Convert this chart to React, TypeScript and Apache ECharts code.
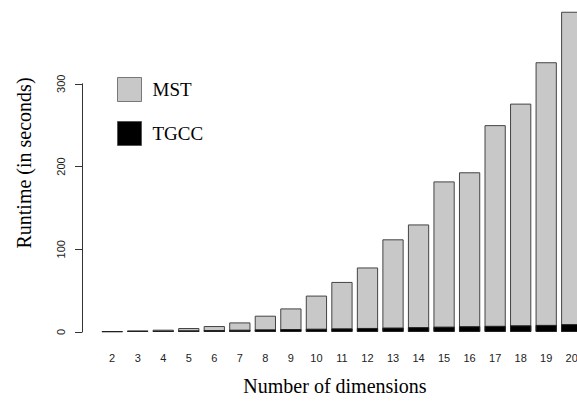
import React, { useEffect, useRef } from "react";
import * as echarts from "echarts";

const dimensions = ["2", "3", "4", "5", "6", "7", "8", "9", "10", "11", "12", "13", "14", "15", "16", "17", "18", "19", "20"];
const mstRuntime = [1.2, 2, 2.8, 4.8, 7.2, 11.6, 19.7, 28.5, 44, 60.5, 78, 112, 130, 182, 193, 250, 276, 326, 387];
const tgccRuntime = [0.8, 1.2, 1.6, 2, 2.4, 2.8, 3.2, 3.6, 4, 4.4, 4.9, 5.4, 5.9, 6.5, 7, 7.5, 8.1, 8.6, 9.5];
const yTicks = [0, 100, 200, 300];

const SERIF = "'Liberation Serif', 'Times New Roman', serif";
const SANS = "'Liberation Sans', Arial, sans-serif";

export default function App() {
  const ref = useRef<HTMLDivElement>(null);
  useEffect(() => {
    if (!ref.current) return;
    const chart = echarts.init(ref.current, null, { renderer: "svg" });
    chart.setOption({
      animation: false,
      backgroundColor: "#ffffff",
      grid: [
        { left: 99.4, width: 485.1, top: 1, bottom: 70, outerBoundsMode: "none", containLabel: false },
        { left: 82, width: 10, top: 83.75, bottom: 70, outerBoundsMode: "none", containLabel: false },
      ],
      xAxis: [
        {
          type: "category",
          gridIndex: 0,
          data: dimensions,
          axisLine: { show: false },
          axisTick: { show: false },
          axisLabel: { fontFamily: SANS, fontSize: 11, color: "#222", margin: 20, interval: 0 },
        },
        { type: "value", gridIndex: 1, show: false },
      ],
      yAxis: [
        { type: "value", gridIndex: 0, min: 0, max: 400, show: false },
        {
          type: "value",
          gridIndex: 1,
          min: yTicks[0],
          max: yTicks[yTicks.length - 1],
          interval: 100,
          axisLine: { show: true, lineStyle: { color: "#333", width: 1 } },
          axisTick: { show: true, length: 7, lineStyle: { color: "#333" } },
          splitLine: { show: false },
          axisLabel: { fontFamily: SANS, fontSize: 11, color: "#222", rotate: 90, margin: 16 },
        },
      ],
      legend: {
        orient: "vertical",
        left: 112,
        top: 72,
        itemWidth: 24,
        itemHeight: 24,
        itemGap: 19,
        icon: "rect",
        textStyle: { fontFamily: SERIF, fontSize: 19, color: "#000", padding: [0, 0, 0, 6] },
        data: [
          { name: "MST", itemStyle: { color: "#c8c8c8", borderColor: "#777", borderWidth: 1 } },
          { name: "TGCC", itemStyle: { color: "#000", borderColor: "#555", borderWidth: 1 } },
        ],
      },
      series: [
        {
          name: "MST",
          type: "bar",
          xAxisIndex: 0,
          yAxisIndex: 0,
          data: mstRuntime,
          barCategoryGap: "16.7%",
          barGap: "-100%",
          itemStyle: { color: "#c8c8c8", borderColor: "#444", borderWidth: 1 },
        },
        {
          name: "TGCC",
          type: "bar",
          xAxisIndex: 0,
          yAxisIndex: 0,
          data: tgccRuntime,
          barCategoryGap: "16.7%",
          barGap: "-100%",
          itemStyle: { color: "#000", borderColor: "#222", borderWidth: 1 },
        },
      ],
      graphic: [
        {
          type: "text",
          x: 335,
          y: 386,
          style: {
            text: "Number of dimensions",
            font: `20px ${SERIF}`,
            fill: "#000",
            textAlign: "center",
            textVerticalAlign: "middle",
          },
        },
        {
          type: "text",
          x: 24,
          y: 163,
          rotation: Math.PI / 2,
          style: {
            text: "Runtime (in seconds)",
            font: `20px ${SERIF}`,
            fill: "#000",
            textAlign: "center",
            textVerticalAlign: "middle",
          },
        },
      ],
    });
    return () => chart.dispose();
  }, []);
  return <div ref={ref} style={{ width: 577, height: 402, position: "absolute", left: 0, top: 0 }} />;
}
